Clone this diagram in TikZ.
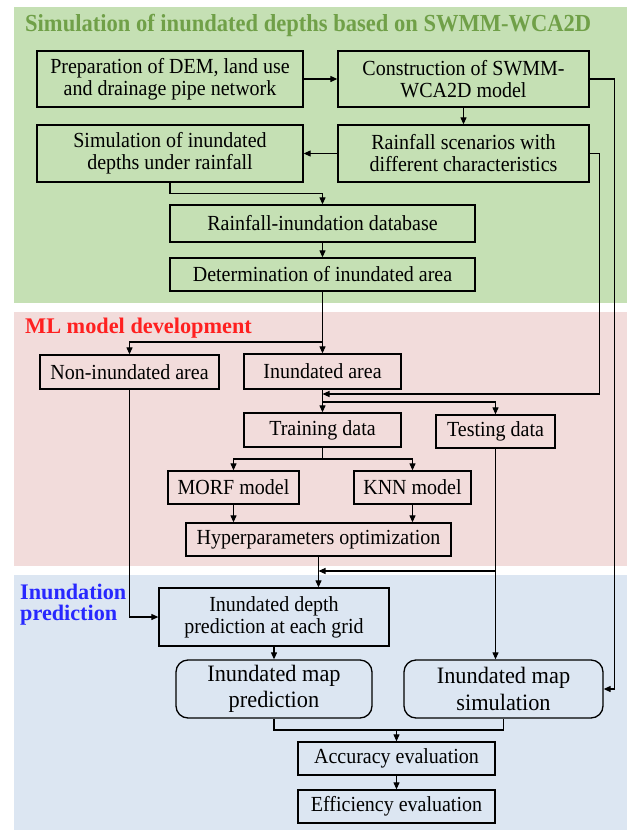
\documentclass[tikz,border=0pt]{standalone}
\usepackage{fontspec}
\setmainfont{Liberation Serif}
\newfontfamily\bodyf[FakeStretch=0.93]{Liberation Serif}
\newfontfamily\bigf[FakeStretch=0.95]{Liberation Serif}
\newfontfamily\titf[FakeStretch=0.92]{Liberation Serif}
\newfontfamily\titg{Liberation Serif}
\usetikzlibrary{arrows.meta}
\definecolor{gbg}{RGB}{197,224,180}
\definecolor{pbg}{RGB}{242,220,219}
\definecolor{bbg}{RGB}{220,230,242}
\definecolor{gtxt}{RGB}{112,160,72}
\definecolor{rtxt}{RGB}{255,32,32}
\definecolor{btxt}{RGB}{40,40,255}
\tikzset{
  box/.style={draw, line width=1.3pt, inner sep=0pt, align=center,
    font=\bodyf\fontsize{21.5}{22}\selectfont},
  rbox/.style={box, rounded corners=12pt, font=\bigf\fontsize{23.5}{26.5}\selectfont},
  arr/.style={-{Triangle[length=7pt,width=6pt]}, line width=1.1pt},
  ln/.style={line width=1.1pt},
  ttl/.style={anchor=base west, inner sep=0pt, align=left}
}
\begin{document}
\begin{tikzpicture}[x=1pt,y=-1pt]
\useasboundingbox (0,0) rectangle (627,830);
% panels
\fill[gbg] (14,7) rectangle (627,303);
\fill[pbg] (14,312) rectangle (627,566);
\fill[bbg] (14,575) rectangle (627,830);
% titles
\node[ttl, text=gtxt, font=\titf\bfseries\fontsize{24.5}{24}\selectfont] (t1) at (25,31.7) {Simulation of inundated depths based on SWMM-WCA2D};
\node[ttl, text=rtxt, font=\titg\bfseries\fontsize{22.3}{21}\selectfont] (t2) at (25,333) {ML model development};
\node[ttl, text=btxt, font=\titg\bfseries\fontsize{22.2}{21}\selectfont] (t3) at (20,620) {Inundation\\prediction};
% boxes
\node[box, minimum width=266pt, minimum height=56pt] (prep) at (170,79) {Preparation of DEM, land use\\and drainage pipe network};
\node[box, minimum width=251pt, minimum height=56pt] (cons) at (463.5,79) {Construction of SWMM-\\WCA2D model};
\node[box, minimum width=266pt, minimum height=57pt] (sim) at (170,153.5) {Simulation of inundated\\depths under rainfall};
\node[box, minimum width=251pt, minimum height=57pt] (rain) at (463.5,153.5) {Rainfall scenarios with\\different characteristics};
\node[box, minimum width=305pt, minimum height=37pt] (db) at (322.5,223.5) {Rainfall-inundation database};
\node[box, minimum width=305pt, minimum height=33pt] (det) at (322.5,274.5) {Determination of inundated area};
\node[box, minimum width=179pt, minimum height=34pt] (non) at (129.5,372) {Non-inundated area};
\node[box, minimum width=157pt, minimum height=35pt] (inu) at (322.5,371.5) {Inundated area};
\node[box, minimum width=157pt, minimum height=34pt] (train) at (322.5,430) {Training data};
\node[box, minimum width=119pt, minimum height=33pt] (test) at (495.5,431.5) {Testing data};
\node[box, minimum width=131pt, minimum height=33pt] (morf) at (233.5,487.5) {MORF model};
\node[box, minimum width=117pt, minimum height=33pt] (knn) at (412.5,487.5) {KNN model};
\node[box, minimum width=265pt, minimum height=33pt] (hyp) at (318.5,539.5) {Hyperparameters optimization};
\node[box, minimum width=230pt, minimum height=58pt] (dep) at (274,617) {Inundated depth\\prediction at each grid};
\node[rbox, minimum width=196pt, minimum height=58pt] (mapp) at (274,689) {Inundated map\\prediction};
\node[rbox, minimum width=199pt, minimum height=58pt] (maps) at (503.5,689) {Inundated map\\simulation};
\node[box, minimum width=197pt, minimum height=33pt] (acc) at (396.5,758.5) {Accuracy evaluation};
\node[box, minimum width=197pt, minimum height=33pt] (eff) at (396.5,806.5) {Efficiency evaluation};
% junction coordinates
\coordinate (j1) at (322.5,342);
\coordinate (j2) at (322.5,394);
\coordinate (j3) at (322.5,402);
\coordinate (j4) at (322.5,459);
\coordinate (j5) at (495.5,571);
\coordinate (j6) at (396.5,730);
% connectors
\draw[arr] (prep.east) -- (cons.west);
\draw[arr] (cons.south) -- (rain.north);
\draw[arr] (rain.west) -- (sim.east);
\draw[arr] (sim.south) -- ++(0,11) -| (db.north);
\draw[arr] (db.south) -- (det.north);
\draw[arr] (det.south) -- (inu.north);
\draw[arr] (j1) -| (non.north);
\draw[arr] (inu.south) -- (train.north);
\draw[arr] (rain.east) -- ++(10,0) |- (j2);
\draw[arr] (j3) -| (test.north);
\draw[ln] (train.south) -- (j4);
\draw[arr] (j4) -| (morf.north);
\draw[arr] (j4) -| (knn.north);
\draw[arr] (morf.south) -- (morf.south |- hyp.north);
\draw[arr] (knn.south) -- (knn.south |- hyp.north);
\draw[arr] (hyp.south) -- (hyp.south |- dep.north);
\draw[arr] (test.south) -- (test.south |- maps.north);
\draw[arr] (j5) -- (hyp.south |- j5);
\draw[arr] (non.south) |- (dep.west);
\draw[arr] (dep.south) -- (mapp.north);
\draw[arr] (cons.east) -- ++(25,0) |- (maps.east);
\draw[ln] (mapp.south) |- (j6) -| (maps.south);
\draw[arr] (j6) -- (acc.north);
\draw[arr] (acc.south) -- (eff.north);
\end{tikzpicture}
\end{document}
